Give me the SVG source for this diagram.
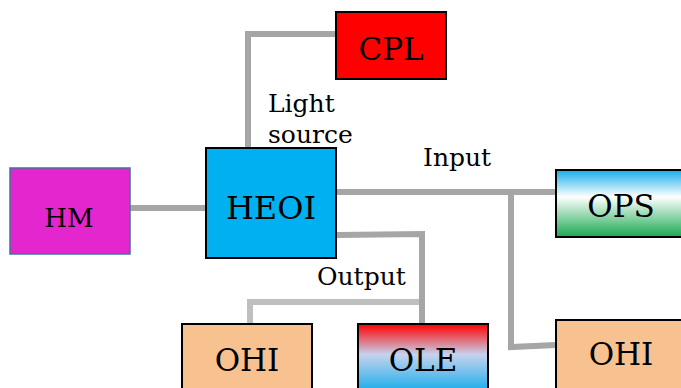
<svg xmlns="http://www.w3.org/2000/svg" width="681" height="388" viewBox="0 0 681 388">
<style>
.node{stroke:#000;stroke-width:2}
.t{font-family:"DejaVu Serif","Liberation Serif",serif;font-size:31px;fill:#000;text-anchor:middle}
.lbl{font-family:"DejaVu Serif","Liberation Serif",serif;font-size:25px;fill:#000}
.c{fill:none;stroke:#a6a6a6;stroke-width:6}
.cl{fill:none;stroke:#bfbfbf;stroke-width:6}
</style>
<defs>
<linearGradient id="gOPS" x1="0" y1="0" x2="0" y2="1">
<stop offset="0" stop-color="#16ACEA"/>
<stop offset="0.4" stop-color="#ffffff"/>
<stop offset="1" stop-color="#18A94F"/>
</linearGradient>
<linearGradient id="gOLE" x1="0" y1="0" x2="0" y2="1">
<stop offset="0" stop-color="#FF0000"/>
<stop offset="0.45" stop-color="#C6D3EE"/>
<stop offset="1" stop-color="#16ACEA"/>
</linearGradient>
</defs>
<g id="connectors">
<polyline class="c" points="248,148 248,34 336,34"/>
<line class="c" x1="130" y1="208" x2="206" y2="208"/>
<polyline class="c" points="337,192 556,192"/>
<polyline class="c" points="511,192 511,347 556,345"/>
<polyline class="cl" points="250,323 250,302 422,302"/>
<polyline class="c" points="337,235 422,234 422,323"/>
</g>
<g id="CPL"><rect class="node" x="336" y="12" width="110" height="67" fill="#FF0000"/><text class="t" x="391" y="60">CPL</text></g>
<g id="HM"><rect x="10" y="168" width="120" height="86" fill="#E426CE" stroke="#41719C" stroke-width="1.5"/><text class="t" x="69" y="227" style="font-size:26px">HM</text></g>
<g id="HEOI"><rect class="node" x="206" y="148" width="130" height="110" fill="#00B0F0"/><text class="t" x="271" y="219" style="font-size:32px">HEOI</text></g>
<g id="OPS"><rect class="node" x="556" y="170" width="130" height="67" fill="url(#gOPS)"/><text class="t" x="621" y="217">OPS</text></g>
<g id="OHI_right"><rect class="node" x="556" y="320" width="130" height="72" fill="#F8C190"/><text class="t" x="621" y="365">OHI</text></g>
<g id="OHI_bottom"><rect class="node" x="182" y="324" width="130" height="68" fill="#F8C190"/><text class="t" x="247" y="371">OHI</text></g>
<g id="OLE"><rect class="node" x="358" y="324" width="130" height="68" fill="url(#gOLE)"/><text class="t" x="423" y="371">OLE</text></g>
<g id="labels">
<text class="lbl" x="268" y="112">Light</text>
<text class="lbl" x="268" y="143">source</text>
<text class="lbl" x="423" y="166">Input</text>
<text class="lbl" x="317" y="285">Output</text>
</g>
</svg>
